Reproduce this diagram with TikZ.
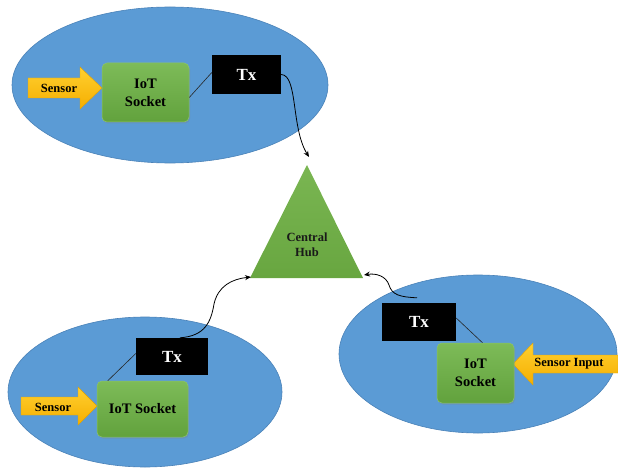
\documentclass[tikz,border=0pt]{standalone}
\usepackage{fontspec}
\setmainfont{Liberation Serif}
\usetikzlibrary{arrows.meta,shapes.geometric,shadows}
\definecolor{blobblue}{HTML}{5B9BD5}
\definecolor{blobedge}{HTML}{4A82B8}
\definecolor{socktop}{HTML}{7DBB58}
\definecolor{sockbot}{HTML}{62A23D}
\definecolor{sockedge}{HTML}{8DC46A}
\definecolor{hubtop}{HTML}{7AB652}
\definecolor{hubbot}{HTML}{68A640}
\definecolor{arrtop}{HTML}{FFD030}
\definecolor{arrbot}{HTML}{F5AE00}
\definecolor{arredge}{HTML}{E3A200}
\begin{document}
\begin{tikzpicture}[x=1pt,y=-1pt,
  blob/.style={ellipse, draw=blobedge, line width=0.6pt, fill=blobblue, inner sep=0},
  socket/.style={rectangle, rounded corners=5pt, draw=sockedge, line width=0.5pt,
    top color=socktop, bottom color=sockbot, inner sep=0, align=center,
    font=\fontsize{14.5}{18}\selectfont\bfseries, text=black,
    drop shadow={opacity=0.3, shadow xshift=1pt, shadow yshift=-1.5pt}},
  txbox/.style={rectangle, fill=black, inner sep=0, text=white,
    font=\fontsize{17}{20}\selectfont\bfseries},
  senslabel/.style={font=\fontsize{12.5}{15}\selectfont\bfseries, inner sep=0, text=black},
  sensarrow/.style={top color=arrtop, bottom color=arrbot, draw=arredge, line width=0.4pt},
  link/.style={line width=0.6pt, black!85},
  feed/.style={line width=0.8pt, black, -{Stealth[length=6pt,width=5pt]}}
]
\useasboundingbox (0,0) rectangle (618,468);

% ellipses
\node[blob, minimum width=316pt, minimum height=156pt] (e1) at (170,85) {};
\node[blob, minimum width=278pt, minimum height=158pt] (e2) at (478,354) {};
\node[blob, minimum width=274pt, minimum height=150pt] (e3) at (145,392) {};

% central hub
\coordinate (hubT) at (307,165);
\coordinate (hubL) at (250,278);
\coordinate (hubR) at (363,278);
\shade[top color=hubtop, bottom color=hubbot] (hubT) -- (hubL) -- (hubR) -- cycle;
\node[align=center, font=\fontsize{12.5}{15}\selectfont\bfseries, text=black!90, inner sep=0] (hub) at (307,245) {Central\\Hub};
\coordinate (topin) at (309,157);
\coordinate (leftin) at (251,277);
\coordinate (rightin) at (364,275);

% top unit
\shade[sensarrow] (28,78) -- (80,78) -- (80,67) -- (102,88) -- (80,109) -- (80,98) -- (28,98) -- cycle;
\node[senslabel] (sens1) at (59,88) {Sensor};
\node[socket, minimum width=87pt, minimum height=59pt] (s1) at (145.5,92.5) {IoT\\Socket};
\node[txbox, minimum width=69pt, minimum height=39pt] (tx1) at (246.5,74.5) {Tx};
\draw[link] ([yshift=-5pt]s1.east) -- ([yshift=2pt]tx1.west);
\draw[feed] (tx1.east) .. controls (298,75) and (291,128) .. (topin);

% right unit
\shade[sensarrow] (618,355) -- (533,355) -- (533,343) -- (513,364) -- (533,385) -- (533,373) -- (618,373) -- cycle;
\node[senslabel] (sens2) at (569,364) {Sensor Input};
\node[socket, minimum width=77pt, minimum height=60pt] (s2) at (475.5,373) {IoT\\Socket};
\node[txbox, minimum width=74pt, minimum height=38pt] (tx2) at (419,322) {Tx};
\draw[link] ([yshift=4pt]tx2.east) -- ([xshift=7pt]s2.north);
\draw[feed] ([xshift=-2pt,yshift=5pt]tx2.north) .. controls (400,297) and (392,295) .. (389,285)
  .. controls (386,276) and (376,273) .. (rightin);

% bottom unit
\shade[sensarrow] (21,397) -- (78,397) -- (78,387) -- (97,406) -- (78,425) -- (78,415) -- (21,415) -- cycle;
\node[senslabel] (sens3) at (53,407) {Sensor};
\node[socket, minimum width=91pt, minimum height=56pt] (s3) at (142.5,409) {IoT Socket};
\node[txbox, minimum width=72pt, minimum height=37pt] (tx3) at (172,356.5) {Tx};
\draw[link] ([xshift=11pt]s3.north west) -- ([yshift=3pt]tx3.west);
\draw[feed] ([xshift=8pt]tx3.north) .. controls (205,336) and (211,322) .. (214,304)
  .. controls (218,286) and (232,279) .. (leftin);
\end{tikzpicture}
\end{document}
